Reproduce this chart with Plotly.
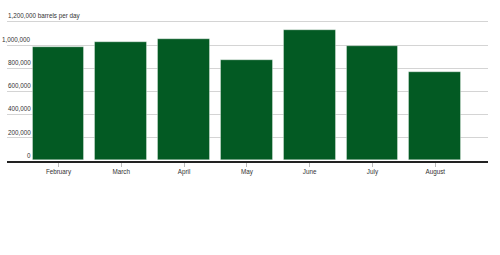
import plotly.graph_objects as go

months = ["February", "March", "April", "May", "June", "July", "August"]
barrels = [980000, 1029000, 1053000, 868000, 1128000, 990000, 767000]
y_ticks = [0, 200000, 400000, 600000, 800000, 1000000, 1200000]
y_tick_labels = ["0", "200,000", "400,000", "600,000", "800,000", "1,000,000", "1,200,000 barrels per day"]

FONT = "Liberation Sans, Arial, sans-serif"
FS = 6.3

fig = go.Figure()
fig.add_trace(go.Bar(
    x=months, y=barrels,
    width=0.825,
    marker=dict(color="#035a23", line=dict(color="rgba(255,255,255,0.35)", width=1)),
    hoverinfo="skip",
))

annotations = []
for v, lab in zip(y_ticks, y_tick_labels):
    if v == y_ticks[-1]:
        annotations.append(dict(x=0.012, xref="paper", xanchor="left", y=v, yref="y",
                                yanchor="bottom", text=lab, showarrow=False,
                                font=dict(family=FONT, size=FS, color="#333")))
    else:
        annotations.append(dict(x=0.066, xref="paper", xanchor="right", y=v, yref="y",
                                yanchor="bottom", text=lab, showarrow=False,
                                font=dict(family=FONT, size=FS, color="#333")))

# 0 at y=160.7px, 1.2M at y=22px; extend range slightly so top gridline draws
px_per_unit = (160.7 - 22) / 1200000
top_val = 1215000
top_px = 160.7 - top_val * px_per_unit

fig.update_layout(
    width=500, height=255,
    margin=dict(l=0, r=0, t=0, b=0),
    paper_bgcolor="white", plot_bgcolor="white",
    showlegend=False,
    bargap=0,
    annotations=annotations,
    xaxis=dict(
        domain=[0.014, 0.976],
        range=[-0.82, 6.84],
        showline=True, linecolor="#222", linewidth=1.6,
        ticks="outside", ticklen=4, tickcolor="#bbb", tickwidth=1,
        tickfont=dict(family=FONT, size=FS, color="#333"),
        showgrid=False, zeroline=False,
    ),
    yaxis=dict(
        domain=[(255 - 160.7) / 255, (255 - top_px) / 255],
        range=[0, top_val],
        tickvals=y_ticks,
        showticklabels=False,
        showgrid=True, gridcolor="#d4d4d4", gridwidth=1,
        zeroline=False,
    ),
)

fig.write_html("out.html")
